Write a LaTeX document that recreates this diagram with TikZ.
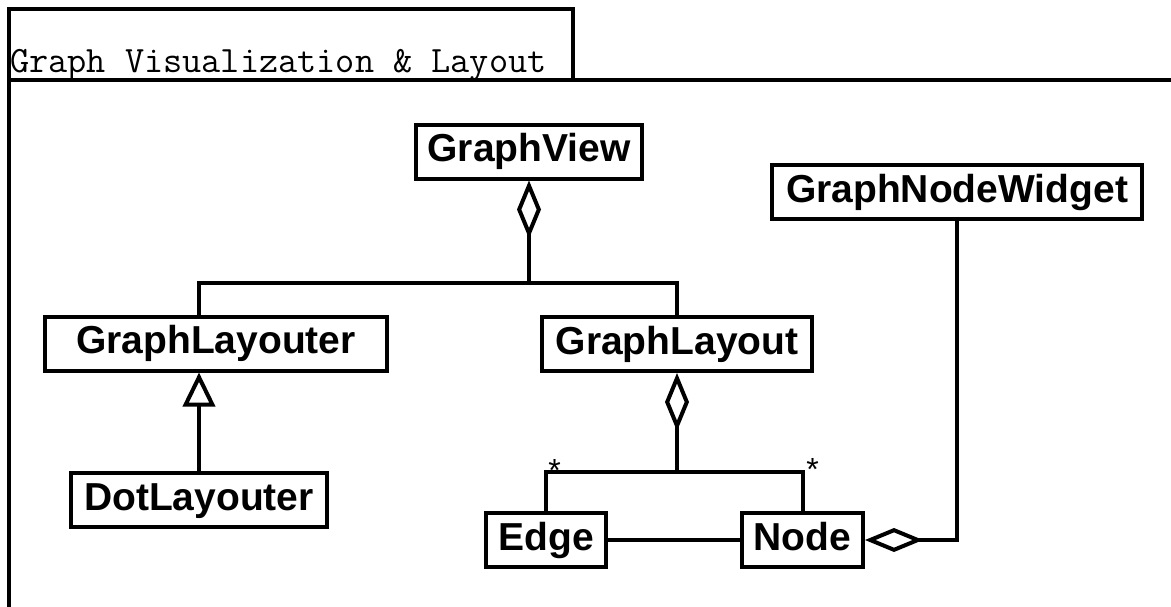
\documentclass[tikz,border=0pt]{standalone}
\usepackage{fontspec}
\usetikzlibrary{arrows.meta}
\newfontfamily\classfont{Liberation Sans}
\begin{document}
\begin{tikzpicture}[x=1pt, y=-1pt,
  cls/.style={draw, line width=4pt, fill=white, inner sep=0pt,
    minimum height=54pt, text height=28.5pt, text depth=8pt,
    font=\classfont\bfseries\fontsize{39}{40}\selectfont},
  link/.style={line width=4pt},
  agg/.style={link, {Diamond[open, fill=white, length=58pt, width=24pt]}-},
  inherit/.style={link, -{Triangle[open, fill=white, length=34pt, width=32pt]}},
  mult/.style={inner sep=0pt, anchor=base, font=\classfont\fontsize{32}{32}\selectfont},
  frame/.style={line width=3.5pt},
]
\useasboundingbox (0,0) rectangle (1171,606);

% package frame with its tab
\draw[frame] (9,80) -- (9,9) -- (573,9) -- (573,80);
\draw[frame] (9,610) -- (9,80) -- (1175,80);
\node[anchor=base west, inner sep=0pt,
  font=\ttfamily\fontsize{37.2}{38}\selectfont] (title) at (10,72)
  {Graph Visualization \& Layout};

% classes
\node[cls, minimum width=226pt] (gv)   at (529,151.5) {GraphView};
\node[cls, minimum width=370pt] (gnw)  at (957,192)   {GraphNodeWidget};
\node[cls, minimum width=342pt] (glr)  at (216,343.5) {GraphLayouter};
\node[cls, minimum width=256pt] (dot)  at (199,500)   {DotLayouter};
\node[cls, minimum width=270pt] (gly)  at (677,344)   {GraphLayout};
\node[cls, minimum width=120pt] (edge) at (546,540)   {Edge};
\node[cls, minimum width=121pt] (node) at (802.5,540) {Node};

% junction points of the branching connectors
\coordinate (j1) at (529,283);
\coordinate (j2) at (677,472);

% GraphView aggregates both layout classes
\draw[agg] (gv.south) -- (j1);
\draw[link] (glr.north -| dot.north) |- (j1) -| (gly.north);

% DotLayouter specialises GraphLayouter
\draw[inherit] (dot.north) -- (dot.north |- glr.south);

% GraphLayout aggregates edges and nodes
\draw[agg] (gly.south) -- (j2);
\draw[link] (edge.north) |- (j2) -| (node.north);
\node[mult] (m1) at (554.5,481) {*};
\node[mult] (m2) at (812.5,480) {*};

% edge to node association
\draw[link] (edge.east) -- (node.west);

% GraphNodeWidget aggregates a node
\draw[agg] (node.east) -| (gnw.south);
\end{tikzpicture}
\end{document}
